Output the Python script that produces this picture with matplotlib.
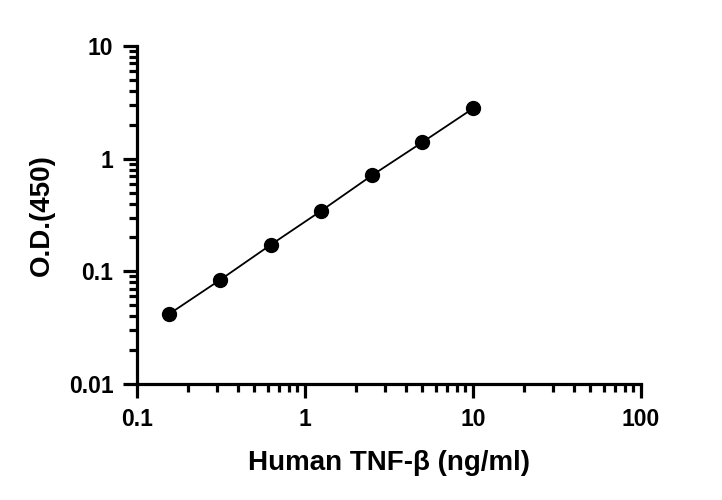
import matplotlib
matplotlib.use("Agg")
import matplotlib.pyplot as plt
from matplotlib.ticker import LogLocator, FixedLocator, NullFormatter

plt.rcParams['font.family'] = ['Liberation Sans', 'DejaVu Sans']

# standard curve
conc = [0.156, 0.3125, 0.625, 1.25, 2.5, 5, 10]
od = [0.042, 0.084, 0.172, 0.345, 0.71, 1.40, 2.79]

x_ticks = [0.1, 1, 10, 100]
x_labels = ["0.1", "1", "10", "100"]
y_ticks = [0.01, 0.1, 1, 10]
y_labels = ["0.01", "0.1", "1", "10"]

fig = plt.figure(figsize=(7.22, 5.0), dpi=100)
ax = fig.add_axes([0.1898, 0.232, 0.698, 0.676])

ax.plot(conc, od, color="black", lw=1.3, marker="o", ms=10, zorder=3)

ax.set_xscale("log")
ax.set_yscale("log")
ax.set_xlim(0.1, 100)
ax.set_ylim(0.01, 10)

ax.xaxis.set_major_locator(FixedLocator(x_ticks))
ax.yaxis.set_major_locator(FixedLocator(y_ticks))
ax.set_xticklabels(x_labels)
ax.set_yticklabels(y_labels)
ax.xaxis.set_minor_locator(LogLocator(base=10, subs=range(2, 10), numticks=20))
ax.yaxis.set_minor_locator(LogLocator(base=10, subs=range(2, 10), numticks=20))
ax.xaxis.set_minor_formatter(NullFormatter())
ax.yaxis.set_minor_formatter(NullFormatter())

for side in ["top", "right"]:
    ax.spines[side].set_visible(False)
for side in ["left", "bottom"]:
    ax.spines[side].set_linewidth(2.3)

ax.tick_params(which="major", length=10, width=2.3, labelsize=16.5, pad=7)
ax.tick_params(which="minor", length=6, width=2.3)
for lab in ax.get_xticklabels() + ax.get_yticklabels():
    lab.set_fontweight("bold")

ax.set_xlabel("Human TNF-β (ng/ml)", fontsize=20, fontweight="bold", labelpad=14)
ax.set_ylabel("O.D.(450)", fontsize=20, fontweight="bold", labelpad=10)

fig.savefig("out.png", dpi=100)
